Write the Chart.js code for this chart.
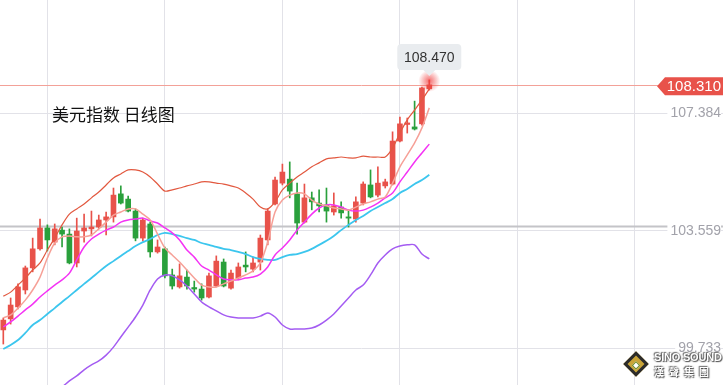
<!DOCTYPE html>
<html>
<head>
<meta charset="utf-8">
<script src="https://cdn.jsdelivr.net/npm/chart.js@4/dist/chart.umd.min.js"></script>
<style>
  html, body { margin: 0; padding: 0; background: #fff; }
  #wrap { position: relative; width: 723px; height: 385px; overflow: hidden; }
  #chart { position: absolute; left: 0; top: 0; }
  #title { position: absolute; left: 52px; top: 101px; font: 17px "Noto Sans CJK SC", sans-serif; color: #111; }
  #logo { position: absolute; left: 654px; top: 351px; white-space: nowrap; font: bold 11px "Liberation Sans Narrow", "Liberation Sans", sans-serif;
          color: #fff; line-height: 13px; letter-spacing: -0.2px;
          text-shadow: 0 0 2px #444, 1px 1px 1px #555, -1px -1px 1px #777; }
  #logo span { display: block; font: bold 10px "Noto Sans CJK TC", sans-serif; letter-spacing: 5px; }
  #badge { position: absolute; left: 627px; top: 355px; width: 18px; height: 18px; transform: rotate(45deg);
           background: #c9a437; border: 3px solid #2b2b2b; box-sizing: border-box; }
  #badge i { position: absolute; left: 4px; top: 4px; width: 4px; height: 4px; background: #fff; border: 1px solid #6a8a2a; }
</style>
</head>
<body>
<div id="wrap">
  <canvas id="chart" width="723" height="385"></canvas>
  <div id="title">美元指数 日线图</div>
  <div id="badge"><i></i></div>
  <div id="logo">SINO SOUND<span>漢聲集團</span></div>
</div>
<script>
// daily candles, oldest first
const opens = [100.33,100.69,101.08,101.63,102.35,102.97,103.65,103.19,103.58,103.45,102.51,103.55,103.62,103.68,103.91,104.01,104.76,104.59,104.20,103.32,103.78,102.87,102.97,102.12,101.73,102.05,101.71,101.66,101.40,101.76,102.54,101.69,102.02,102.44,102.31,102.54,103.26,104.43,105.11,105.24,104.76,103.84,104.63,104.46,104.40,104.17,104.33,104.01,103.94,104.46,105.05,104.72,105.02,105.08,106.48,107.02,106.94,107.04,108.18];
const closes = [100.65,101.14,101.73,102.35,102.97,103.65,103.26,103.62,103.45,102.51,103.55,103.65,103.68,103.91,104.01,104.72,104.46,104.20,103.32,103.91,102.87,103.03,102.09,101.76,102.09,101.76,101.66,101.37,102.09,102.57,101.76,102.18,102.38,102.38,102.51,103.32,104.20,105.21,105.47,104.85,103.81,104.63,104.50,104.37,104.20,104.37,104.14,103.97,104.50,105.08,104.66,105.11,105.15,106.48,107.04,107.07,106.87,108.21,108.31];
const highs = [100.72,101.37,101.83,102.41,103.32,103.94,103.75,103.78,103.68,103.62,103.97,104.10,104.20,104.07,104.17,104.95,105.02,104.69,104.27,103.97,103.84,103.26,103.03,102.31,102.48,102.28,101.92,101.83,102.18,102.74,102.64,102.28,102.51,102.87,102.70,103.42,104.27,105.31,105.73,105.80,105.11,105.08,104.82,104.89,104.95,104.79,104.50,104.24,104.66,105.15,105.54,105.64,105.24,106.78,107.26,107.23,107.78,108.24,108.47];
const lows = [99.87,100.52,101.01,101.50,102.22,102.93,102.90,103.10,103.03,102.48,102.38,103.19,103.39,103.62,103.42,103.84,104.43,104.17,103.23,103.23,102.70,102.83,102.02,101.66,101.69,101.66,101.56,101.30,101.37,101.73,101.73,101.66,101.96,102.22,102.22,102.28,103.10,104.40,105.05,104.63,103.45,103.81,104.24,104.17,103.84,104.07,103.97,103.68,103.84,104.40,104.63,104.66,104.95,105.05,106.45,106.74,106.84,107.00,108.14];

// indicator lines
const upperBand = [101.43,101.56,101.79,102.02,102.28,102.51,102.93,103.32,103.75,104.10,104.27,104.43,104.63,104.82,105.05,105.28,105.41,105.54,105.54,105.47,105.31,105.08,104.85,104.89,104.95,105.02,105.08,105.15,105.15,105.11,105.08,105.02,104.95,104.79,104.59,104.33,104.27,104.50,104.89,105.11,105.31,105.47,105.64,105.77,105.90,105.93,105.96,105.93,105.93,105.99,105.96,105.96,105.96,106.25,106.74,107.17,107.49,107.82,108.18];
const ma5 = [100.72,100.82,101.04,101.30,101.63,102.05,102.67,103.16,103.36,103.39,103.36,103.36,103.42,103.62,103.84,104.07,104.17,104.27,104.27,104.10,103.91,103.45,103.00,102.77,102.54,102.28,102.02,101.79,101.73,101.73,101.83,101.92,102.02,102.12,102.25,102.51,103.19,104.17,104.56,104.72,104.79,104.76,104.56,104.43,104.37,104.30,104.27,104.23,104.33,104.43,104.50,104.59,104.66,105.11,105.64,106.03,106.42,106.91,107.56];
const ma10 = [100.43,100.59,100.78,100.98,101.17,101.40,101.60,101.79,101.96,102.18,102.61,103.03,103.29,103.45,103.58,103.68,103.84,103.91,103.94,103.97,103.88,103.81,103.65,103.49,103.26,102.93,102.70,102.41,102.28,102.12,101.99,101.96,101.96,102.02,102.05,102.15,102.38,102.77,103.00,103.26,103.58,103.84,104.10,104.30,104.40,104.40,104.33,104.23,104.20,104.23,104.33,104.46,104.63,104.79,105.15,105.47,105.80,106.09,106.38];
const ma20 = [99.71,99.84,100.00,100.23,100.49,100.65,100.85,101.04,101.24,101.43,101.63,101.83,102.02,102.22,102.41,102.57,102.74,102.90,103.06,103.19,103.29,103.42,103.49,103.45,103.39,103.32,103.26,103.16,103.10,103.03,102.97,102.93,102.87,102.80,102.70,102.64,102.61,102.61,102.70,102.77,102.80,102.87,102.97,103.10,103.23,103.39,103.58,103.75,103.91,104.04,104.20,104.33,104.46,104.59,104.79,104.92,105.08,105.21,105.38];
const lowerBand = [null,null,null,null,null,null,null,98.31,98.47,98.67,98.83,99.03,99.19,99.32,99.51,99.77,100.10,100.42,100.75,101.14,101.63,101.99,102.12,102.09,101.96,101.76,101.50,101.24,101.08,100.95,100.82,100.75,100.72,100.72,100.72,100.78,100.88,100.75,100.49,100.36,100.36,100.36,100.39,100.49,100.65,100.85,101.11,101.37,101.63,101.79,102.12,102.51,102.77,102.97,103.06,103.10,103.10,102.80,102.64];

const yTicks = [99.733, 103.559, 107.384, 111.209];
const xGridAt = [6, 22, 38, 54, 70, 86];
const xRange = [-0.45, 97.99];
const yRange = [98.536, 111.073];
const prevLine = 103.71;
const lastClose = 108.31;
const lastHigh = 108.47;

const UP = '#e8524a';
const DOWN = '#2aa03c';

const candleColors = closes.map((c, i) => (c >= opens[i] ? UP : DOWN));
const bodies = closes.map((c, i) => ({ x: i, y: [opens[i], c] }));
const wicks = highs.map((h, i) => ({ x: i, y: [lows[i], h] }));
const toPoints = arr => arr.map((v, i) => ({ x: i, y: v }));

function lineSet(data, color, width) {
    return {
        type: 'line',
        data: toPoints(data),
        borderColor: color,
        borderWidth: width,
        pointRadius: 0,
        tension: 0.3,
        spanGaps: false,
        order: 0
    };
}

// axes take no room, so the plot fills the whole canvas
function noRoom(s) {
    if (s.isHorizontal()) s.height = 0; else s.width = 0;
    s.paddingTop = 0;
    s.paddingBottom = 0;
    s.paddingLeft = 0;
    s.paddingRight = 0;
}

const overlayPlugin = {
    id: 'overlay',
    beforeDatasetsDraw(chart) {
        const { ctx, chartArea, scales } = chart;
        ctx.save();
        let y = Math.round(scales.y.getPixelForValue(prevLine)) + 0.5;
        ctx.strokeStyle = '#c4c4c8';
        ctx.lineWidth = 2;
        ctx.beginPath();
        ctx.moveTo(chartArea.left, y);
        ctx.lineTo(chartArea.right, y);
        ctx.stroke();
        y = Math.round(scales.y.getPixelForValue(lastClose)) + 0.5;
        ctx.strokeStyle = '#f3a198';
        ctx.lineWidth = 1;
        ctx.beginPath();
        ctx.moveTo(chartArea.left, y);
        ctx.lineTo(chartArea.right, y);
        ctx.stroke();
        ctx.restore();
    },
    afterDraw(chart) {
        const { ctx, chartArea, scales } = chart;
        const last = closes.length - 1;
        const px = scales.x.getPixelForValue(last);
        const py = scales.y.getPixelForValue(lastHigh);
        ctx.save();

        // top tick label sits half outside the canvas
        const topY = scales.y.getPixelForValue(yTicks[yTicks.length - 1]);
        ctx.fillStyle = '#a2a2aa';
        ctx.font = '14px "Liberation Sans", sans-serif';
        ctx.textAlign = 'right';
        ctx.textBaseline = 'middle';
        ctx.fillText(yTicks[yTicks.length - 1].toFixed(3), chartArea.right + 2, topY);

        // glow on last candle
        const g = ctx.createRadialGradient(px, py + 1, 0, px, py + 1, 11);
        g.addColorStop(0, 'rgba(240,60,60,0.75)');
        g.addColorStop(1, 'rgba(240,60,60,0)');
        ctx.fillStyle = g;
        ctx.beginPath();
        ctx.arc(px, py + 1, 11, 0, Math.PI * 2);
        ctx.fill();

        // tooltip box
        const bw = 64, bh = 26;
        const by = py - 36;
        ctx.fillStyle = '#e9ecef';
        ctx.beginPath();
        ctx.roundRect(px - bw / 2, by, bw, bh, 4);
        ctx.fill();
        ctx.beginPath();
        ctx.moveTo(px - 6, by + bh);
        ctx.lineTo(px + 6, by + bh);
        ctx.lineTo(px, by + bh + 6);
        ctx.closePath();
        ctx.fill();
        ctx.fillStyle = '#333';
        ctx.font = '14px "Liberation Sans", sans-serif';
        ctx.textAlign = 'center';
        ctx.fillText(lastHigh.toFixed(3), px, by + bh / 2 + 1);

        // price tag on right
        const ty = scales.y.getPixelForValue(lastClose) + 1.5;
        const right = chartArea.right;
        ctx.fillStyle = '#e8524a';
        ctx.beginPath();
        ctx.moveTo(right - 66, ty);
        ctx.lineTo(right - 58, ty - 9);
        ctx.lineTo(right, ty - 9);
        ctx.lineTo(right, ty + 9);
        ctx.lineTo(right - 58, ty + 9);
        ctx.closePath();
        ctx.fill();
        ctx.fillStyle = '#fff';
        ctx.font = '15px "Liberation Sans", sans-serif';
        ctx.textAlign = 'right';
        ctx.fillText(lastClose.toFixed(3), right - 2, ty + 1);
        ctx.restore();
    }
};

const ctx = document.getElementById('chart').getContext('2d');

new Chart(ctx, {
    type: 'bar',
    data: {
        datasets: [
            lineSet(upperBand, '#e2583f', 1.2),
            lineSet(ma5, '#f6a097', 1.5),
            lineSet(ma10, '#f433f4', 1.5),
            lineSet(ma20, '#3cc6ee', 1.8),
            lineSet(lowerBand, '#a45cf2', 1.5),
            {
                data: bodies,
                backgroundColor: candleColors,
                barThickness: 5,
                minBarLength: 1,
                grouped: false,
                order: 1
            },
            {
                data: wicks,
                backgroundColor: candleColors,
                barThickness: 1,
                grouped: false,
                order: 2
            }
        ]
    },
    options: {
        responsive: false,
        animation: false,
        layout: { padding: 0 },
        plugins: { legend: { display: false }, tooltip: { enabled: false } },
        scales: {
            x: {
                type: 'linear',
                min: xRange[0],
                max: xRange[1],
                offset: false,
                afterBuildTicks: s => { s.ticks = xGridAt.map(v => ({ value: v })); },
                afterFit: noRoom,
                ticks: { display: false },
                grid: { color: '#e2e2e8', drawTicks: false, offset: false },
                border: { display: false }
            },
            y: {
                position: 'right',
                min: yRange[0],
                max: yRange[1],
                afterBuildTicks: s => { s.ticks = yTicks.map(v => ({ value: v })); },
                afterFit: noRoom,
                ticks: {
                    mirror: true,
                    padding: -2,
                    z: 1,
                    color: '#a2a2aa',
                    font: { family: 'Liberation Sans', size: 14 },
                    callback: v => v.toFixed(3),
                    showLabelBackdrop: true,
                    backdropColor: '#ffffff',
                    backdropPadding: { left: 3, right: 0, top: 1, bottom: 1 }
                },
                grid: { color: '#e2e2e8', drawTicks: false },
                border: { display: false }
            }
        }
    },
    plugins: [overlayPlugin]
});
</script>
</body>
</html>
